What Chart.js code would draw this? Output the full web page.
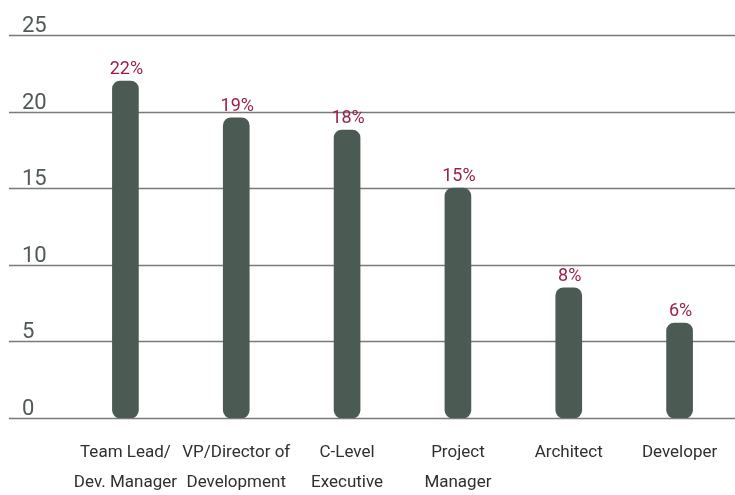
<!DOCTYPE html>
<html>
<head>
<meta charset="utf-8">
<script src="https://cdn.jsdelivr.net/npm/chart.js@4.4.0/dist/chart.umd.min.js"></script>
<style>
  html, body { margin: 0; padding: 0; background: #fff; }
  #wrap { width: 735px; height: 495px; }
</style>
</head>
<body>
<div id="wrap"><canvas id="roles-chart" width="735" height="495"></canvas></div>
<script>
/* Job roles — share of respondents */

const roles = [
  ['Team Lead/', 'Dev. Manager'],
  ['VP/Director of', 'Development'],
  ['C-Level', 'Executive'],
  ['Project', 'Manager'],
  'Architect',
  'Developer',
];
const shares      = [22, 19.6, 18.8, 15, 8.5, 6.2];
const shareLabels = ['22%', '19%', '18%', '15%', '8%', '6%'];
const yTicks      = [0, 5, 10, 15, 20, 25];

const BAR    = '#4b5a52';
const ACCENT = '#98204b';
const GRID   = '#7a7a7a';
const FONT   = 'Roboto, "Noto Sans", sans-serif';

// full-width grid lines + y labels sitting on top of them
const yGridPlugin = {
  id: 'yGrid',
  beforeDatasetsDraw(chart) {
    const { ctx, scales: { y } } = chart;
    ctx.save();
    ctx.strokeStyle = GRID;
    ctx.lineWidth = 1.3;
    ctx.fillStyle = '#4f5a55';
    ctx.font = '22px ' + FONT;
    ctx.textAlign = 'left';
    ctx.textBaseline = 'alphabetic';
    yTicks.forEach(v => {
      const py = Math.round(y.getPixelForValue(v)) + 0.5;
      ctx.beginPath();
      ctx.moveTo(9, py);
      ctx.lineTo(chart.width, py);
      ctx.stroke();
      ctx.fillText(String(v), 22, py - 4);
    });
    ctx.restore();
  },
};

// percentage over every bar
const valueLabelPlugin = {
  id: 'valueLabels',
  afterDatasetsDraw(chart) {
    const { ctx } = chart;
    const meta = chart.getDatasetMeta(0);
    ctx.save();
    ctx.fillStyle = ACCENT;
    ctx.font = '18px ' + FONT;
    ctx.textAlign = 'center';
    ctx.textBaseline = 'alphabetic';
    meta.data.forEach((bar, i) => {
      ctx.fillText(shareLabels[i], bar.x + 1, bar.y - 7);
    });
    ctx.restore();
  },
};

new Chart(document.getElementById('roles-chart'), {
  type: 'bar',
  data: {
    labels: roles,
    datasets: [{
      data: shares,
      backgroundColor: BAR,
      barThickness: 26,
      borderRadius: 8,
      borderSkipped: false,
    }],
  },
  options: {
    responsive: false,
    animation: false,
    layout: { padding: { top: 35, left: 70, right: 0, bottom: 0 } },
    plugins: { legend: { display: false }, tooltip: { enabled: false } },
    scales: {
      y: { min: 0, max: 25, display: false },
      x: {
        grid: { display: false },
        border: { display: false },
        ticks: {
          color: '#2f2f2f',
          font: { family: FONT, size: 17, lineHeight: 1.8 },
          padding: 11,
          maxRotation: 0,
          autoSkip: false,
        },
        afterFit(scale) { scale.height = 77; },
      },
    },
  },
  plugins: [yGridPlugin, valueLabelPlugin],
});
</script>
</body>
</html>
